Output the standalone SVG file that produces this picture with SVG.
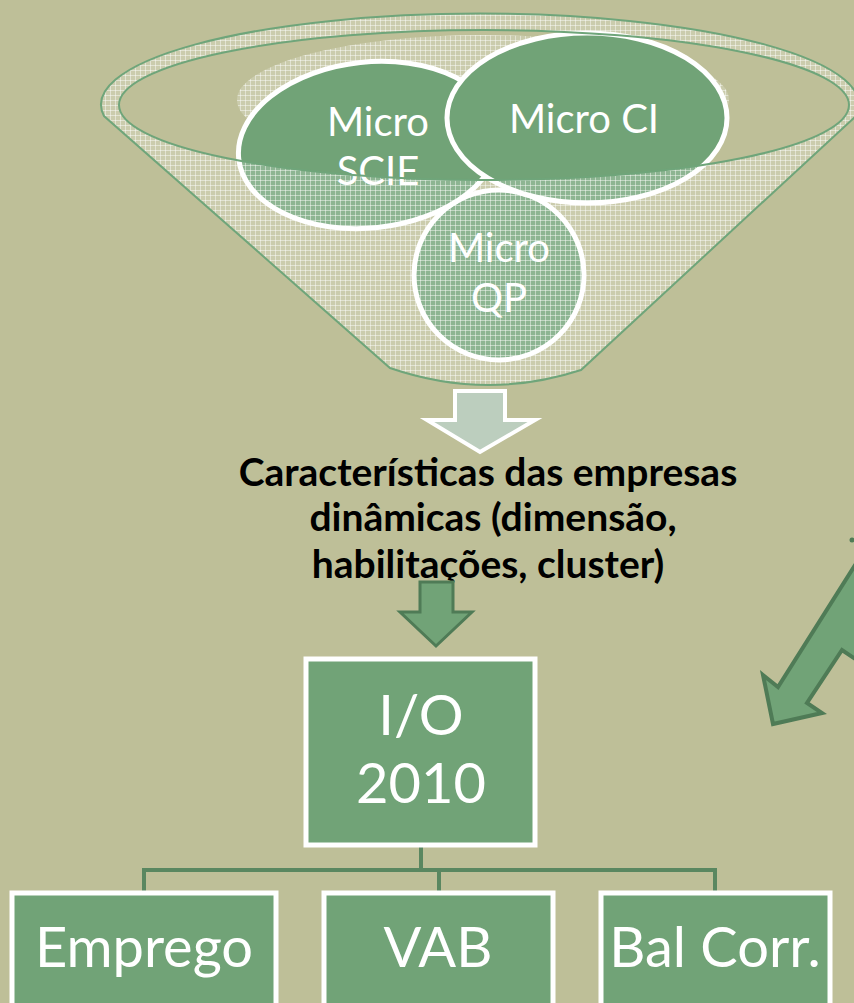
<svg xmlns="http://www.w3.org/2000/svg" width="854" height="1003" viewBox="0 0 854 1003">
<defs>
<pattern id="mesh" width="5" height="5" patternUnits="userSpaceOnUse">
<rect width="5" height="5" fill="#ffffff" fill-opacity="0.2"/>
<path d="M0 0.5H5M0.5 0V5" stroke="#ffffff" stroke-opacity="0.45" stroke-width="1"/>
</pattern>
<style>
.bg{fill:#BEBF98}
.circ{fill:#71A377;stroke:#ffffff;stroke-width:5}
.ctext{font-family:Lato,"Open Sans",sans-serif;fill:#ffffff;text-anchor:middle}
.box{fill:#71A377;stroke:#ffffff;stroke-width:5}
.btext{font-family:Lato,"Open Sans",sans-serif;fill:#ffffff;text-anchor:middle;font-size:56px}
.cap{font-family:Lato,"Open Sans",sans-serif;font-weight:bold;fill:#000000;text-anchor:middle;font-size:39px}
.conn{fill:none;stroke:#5A8760;stroke-width:4}
.funnel{stroke:#6FA57A;stroke-width:2}
</style>
</defs>
<rect class="bg" x="0" y="0" width="854" height="1003"/>

<g id="funnel-back">
<ellipse cx="483" cy="100" rx="246" ry="65" fill="url(#mesh)"/>
</g>

<g id="micro-qp">
<circle class="circ" cx="499" cy="275" r="85"/>
<text class="ctext" font-size="40" x="499" y="262">Micro</text>
<text class="ctext" font-size="40" x="499" y="312">QP</text>
</g>
<g id="micro-scie">
<ellipse class="circ" cx="369" cy="145" rx="131" ry="83" transform="rotate(-6 369 145)"/>
<text class="ctext" font-size="40" x="378" y="136">Micro</text>
<text class="ctext" font-size="40" x="378" y="185">SCIE</text>
</g>
<g id="micro-ci">
<ellipse class="circ" cx="587" cy="118" rx="140" ry="85"/>
<text class="ctext" font-size="40" x="584" y="133">Micro CI</text>
</g>

<g id="funnel-front">
<path class="funnel" fill="url(#mesh)" fill-rule="evenodd" d="M104,116 A379 91 0 1 1 856,116 L581,370 Q486,401 390,368 Z M119,105 A365 75 0 1 0 849,105 A365 75 0 1 0 119,105 Z"/>
</g>

<g id="connectors">
<path class="conn" d="M421,847 V870 M144,870 H715 M144,868 V893 M439,870 V893 M715,868 V893"/>
</g>

<g id="arrow-light">
<path d="M455,391 H505 V420 H535 L480,452 L427,420 H455 Z" fill="#BCCEBE" stroke="#ffffff" stroke-width="4" stroke-linejoin="miter"/>
</g>

<g id="caption">
<text class="cap" x="488" y="486">Características das empresas</text>
<text class="cap" x="493" y="531">dinâmicas (dimensão,</text>
<text class="cap" x="488" y="578">habilitações, cluster)</text>
</g>

<g id="arrow-green">
<path d="M420,582 H453 V612 H472 L436,646 L400,612 H420 Z" fill="#71A377" stroke="#4F7B56" stroke-width="3"/>
</g>

<g id="io-2010">
<rect class="box" x="306" y="659" width="229" height="186"/>
<text class="btext" x="421" y="735">I/O</text>
<text class="btext" x="421" y="803">2010</text>
</g>

<g id="emprego">
<rect class="box" x="12" y="893" width="264" height="130"/>
<text class="btext" x="144" y="967">Emprego</text>
</g>
<g id="vab">
<rect class="box" x="324" y="893" width="229" height="130"/>
<text class="btext" x="438" y="967">VAB</text>
</g>
<g id="bal-corr">
<rect class="box" x="601" y="893" width="229" height="130"/>
<text class="btext" x="715" y="967">Bal Corr.</text>
</g>

<g id="arrow-diagonal">
<path d="M773,724 L763,675 L778,687 L900,494 L1000,600 L870,669 L842,650 L807,703 L822,713 Z" fill="#71A377" stroke="#4F7B56" stroke-width="4" stroke-linejoin="miter"/>
<circle cx="852" cy="540" r="2.5" fill="#4F7B56"/>
</g>
</svg>
